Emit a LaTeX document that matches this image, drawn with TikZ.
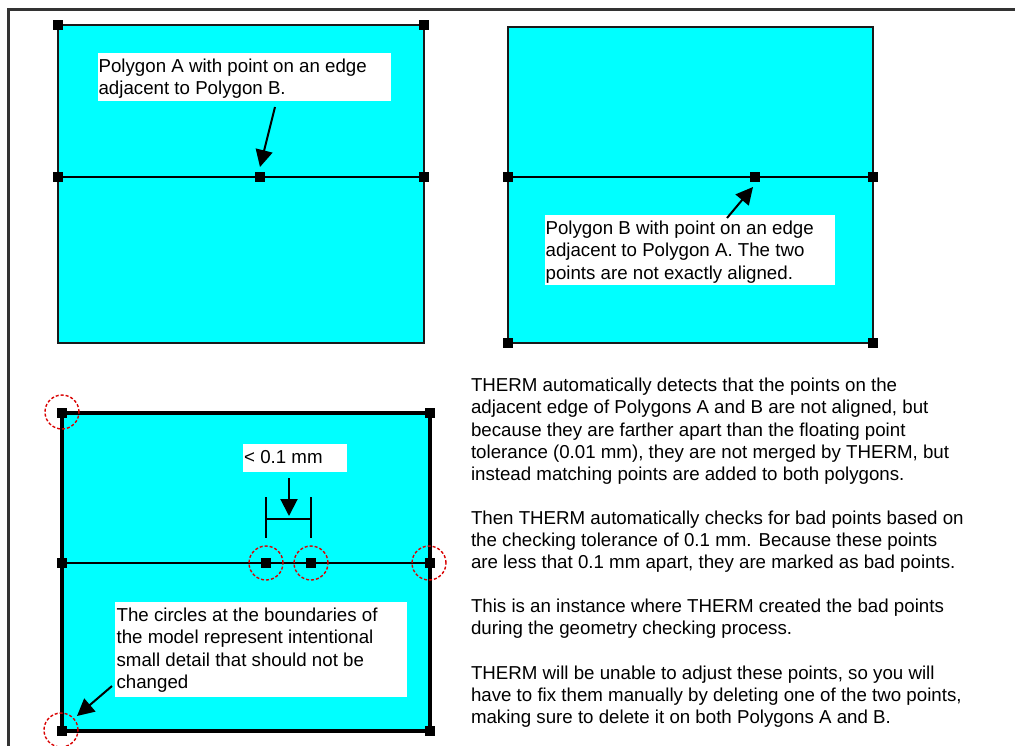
\documentclass[tikz,border=0pt]{standalone}
\usepackage{fontspec}
\setmainfont{Liberation Sans}
\usetikzlibrary{arrows.meta}
\definecolor{cyanfill}{HTML}{00FFFF}
\definecolor{edge}{HTML}{1A1A1A}
\tikzset{
  poly/.style={draw=edge, fill=cyanfill, line width=2pt},
  polythick/.style={draw=black, fill=cyanfill, line width=3.2pt},
  seam/.style={draw=black, line width=1.7pt},
  vtx/.style={fill=black, minimum size=10pt, inner sep=0pt, outer sep=0pt, draw=none, rectangle},
  wbox/.style={fill=white, draw=none, inner sep=0pt, anchor=north west, rectangle},
  txt/.style={inner sep=0pt, outer sep=0pt, align=left, anchor=north west, font=\fontsize{18.7}{22.1}\selectfont},
  callout/.style={-{Triangle[length=17pt,width=17pt]}, line width=2pt, black},
  redcirc/.style={draw=red!85!black, dashed, dash pattern=on 3pt off 2pt, line width=1.4pt, circle, minimum size=34pt, inner sep=0pt, fill=none},
  frame/.style={draw=black!80, line width=2.2pt}
}
\begin{document}
\begin{tikzpicture}[x=1pt,y=-1pt]
\useasboundingbox (0,0) rectangle (1015,745);
% outer frame
\coordinate (f1) at (1016,9.5);
\coordinate (f2) at (8.5,9.5);
\coordinate (f3) at (8.5,746);
\draw[frame] (f1) -- (f2) -- (f3);

% ---------- Polygon A (top left) ----------
\draw[poly] (58,25) rectangle (424,343);
\node[vtx] (a1) at (58,25) {};
\node[vtx] (a2) at (424,25) {};
\node[vtx] (a3) at (58,177) {};
\node[vtx] (a4) at (260,177) {};
\node[vtx] (a5) at (424,177) {};
\draw[seam] (a3.center) -- (a5.center);
\node[vtx] at (a3) {};
\node[vtx] at (a4) {};
\node[vtx] at (a5) {};
\node[wbox, minimum width=293pt, minimum height=48pt] (boxA) at (98,53) {};
\node[txt] (tA) at (98.6,59.3) {Polygon A with point on an edge\\adjacent to Polygon B.};
\coordinate (tailA) at (275,107);
\coordinate (tipA) at (260,167);
\draw[callout] (tailA) -- (tipA);

% ---------- Polygon B (top right) ----------
\draw[poly] (508,27) rectangle (873,343);
\node[vtx] (b1) at (508,177) {};
\node[vtx] (b2) at (755,177) {};
\node[vtx] (b3) at (873,177) {};
\node[vtx] (b4) at (508,343) {};
\node[vtx] (b5) at (873,343) {};
\draw[seam] (b1.center) -- (b3.center);
\node[vtx] at (b1) {};
\node[vtx] at (b2) {};
\node[vtx] at (b3) {};
\node[wbox, minimum width=290pt, minimum height=70pt] (boxB) at (545,215) {};
\node[txt] (tB) at (545.6,221.3) {Polygon B with point on an edge\\adjacent to Polygon A. The two\\points are not exactly aligned.};
\coordinate (tailB) at (727,218);
\coordinate (tipB) at (753,187);
\draw[callout] (tailB) -- (tipB);

% ---------- Merged polygon (bottom left) ----------
\draw[polythick] (62,413) rectangle (430,731);
\node[vtx] (c1) at (62,413) {};
\node[vtx] (c2) at (430,413) {};
\node[vtx] (c3) at (62,563) {};
\node[vtx] (c4) at (266,563) {};
\node[vtx] (c5) at (311,563) {};
\node[vtx] (c6) at (430,563) {};
\node[vtx] (c7) at (62,731) {};
\node[vtx] (c8) at (430,731) {};
\draw[seam] (c3.center) -- (c6.center);
\node[vtx] at (c3) {};
\node[vtx] at (c4) {};
\node[vtx] at (c5) {};
\node[vtx] at (c6) {};
% red circles
\node[redcirc] (r1) at (62,412) {};
\node[redcirc] (r2) at (266,563) {};
\node[redcirc] (r3) at (311,563) {};
\node[redcirc] (r4) at (429,563) {};
\node[redcirc] (r5) at (61,730) {};
% dimension
\coordinate (d1t) at (266,497);
\coordinate (d1b) at (266,538);
\coordinate (d2t) at (311,497);
\coordinate (d2b) at (311,538);
\coordinate (dl) at (266,519);
\coordinate (dr) at (311,519);
\draw[line width=1.8pt] (d1t) -- (d1b);
\draw[line width=1.8pt] (d2t) -- (d2b);
\draw[line width=1.8pt] (dl) -- (dr);
\node[wbox, minimum width=104pt, minimum height=28pt] (boxM) at (243,444) {};
\node[inner sep=0pt, anchor=base west, font=\fontsize{18.7}{22.1}\selectfont] (tM) at (244,463) {< 0.1 mm};
\coordinate (tailM) at (289,478);
\coordinate (tipM) at (289,516);
\draw[callout] (tailM) -- (tipM);
% callout C
\node[wbox, minimum width=292pt, minimum height=95pt] (boxC) at (115,602) {};
\node[txt] (tC) at (116.6,608.3) {The circles at the boundaries of\\the model represent intentional\\small detail that should not be\\changed};
\coordinate (tailC) at (112,686);
\coordinate (tipC) at (77,716);
\draw[callout] (tailC) -- (tipC);

% ---------- Explanation text ----------
\node[txt] (p1) at (471,378.3) {THERM automatically detects that the points on the\\adjacent edge of Polygons A and B are not aligned, but\\because they are farther apart than the floating point\\tolerance (0.01 mm), they are not merged by THERM, but\\instead matching points are added to both polygons.};
\node[txt] (p2) at (471,510.9) {Then THERM automatically checks for bad points based on\\the checking tolerance of 0.1 mm. Because these points\\are less that 0.1 mm apart, they are marked as bad points.};
\node[txt] (p3) at (471,599.3) {This is an instance where THERM created the bad points\\during the geometry checking process.};
\node[txt] (p4) at (471,665.6) {THERM will be unable to adjust these points, so you will\\have to fix them manually by deleting one of the two points,\\making sure to delete it on both Polygons A and B.};
\end{tikzpicture}
\end{document}
